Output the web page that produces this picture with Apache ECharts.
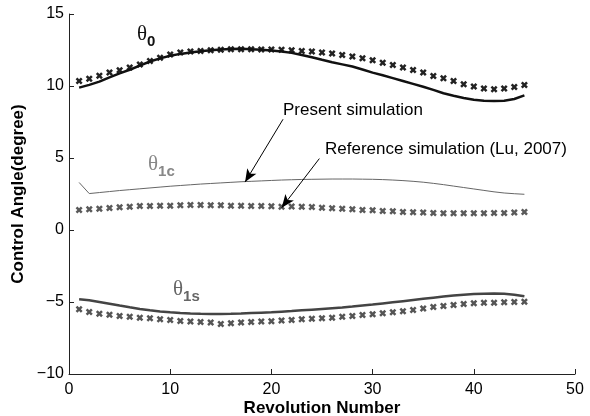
<!DOCTYPE html>
<html><head><meta charset="utf-8">
<script src="https://cdn.jsdelivr.net/npm/echarts@6/dist/echarts.min.js"></script>
<style>html,body{margin:0;padding:0;background:#fff}#c{width:590px;height:416px}</style>
</head><body><div id="c"></div>
<script>
const revolutions = Array.from({length:45},(_,i)=>i+1);
const xTicks = [0,10,20,30,40,50];
const yTicks = [-10,-5,0,5,10,15];
const theta0Present = [9.89,10.08,10.3,10.6,10.88,11.13,11.42,11.7,11.92,12.1,12.23,12.33,12.41,12.48,12.53,12.57,12.58,12.56,12.52,12.47,12.4,12.3,12.15,12.0,11.82,11.65,11.5,11.35,11.15,10.93,10.75,10.55,10.35,10.15,9.95,9.73,9.5,9.32,9.17,9.05,8.98,8.95,8.98,9.1,9.35];
const theta0Ref = [10.35,10.5,10.72,10.93,11.09,11.28,11.5,11.74,11.97,12.18,12.32,12.39,12.43,12.48,12.52,12.55,12.55,12.55,12.54,12.53,12.52,12.48,12.43,12.39,12.32,12.25,12.15,12.04,11.92,11.78,11.62,11.46,11.28,11.11,10.93,10.69,10.53,10.35,10.12,9.96,9.82,9.77,9.82,9.93,10.07];
const theta1cPresent = [3.3,2.53,2.6,2.67,2.74,2.8,2.86,2.92,2.98,3.04,3.09,3.14,3.19,3.23,3.27,3.31,3.35,3.38,3.41,3.44,3.47,3.49,3.51,3.52,3.53,3.54,3.54,3.54,3.53,3.52,3.5,3.47,3.43,3.38,3.32,3.24,3.15,3.05,2.95,2.85,2.75,2.65,2.57,2.52,2.48];
const theta1cRef = [1.39,1.44,1.48,1.53,1.58,1.62,1.67,1.67,1.69,1.69,1.72,1.74,1.74,1.72,1.72,1.69,1.69,1.67,1.67,1.65,1.62,1.64,1.62,1.6,1.55,1.51,1.48,1.44,1.39,1.37,1.32,1.3,1.25,1.23,1.21,1.18,1.16,1.16,1.16,1.16,1.16,1.18,1.18,1.21,1.25];
const theta1sPresent = [-4.81,-4.88,-5.0,-5.12,-5.25,-5.37,-5.48,-5.58,-5.66,-5.72,-5.77,-5.8,-5.82,-5.83,-5.83,-5.82,-5.8,-5.77,-5.74,-5.71,-5.67,-5.63,-5.58,-5.53,-5.48,-5.43,-5.38,-5.32,-5.25,-5.18,-5.1,-5.02,-4.94,-4.86,-4.78,-4.7,-4.62,-4.55,-4.49,-4.45,-4.42,-4.41,-4.43,-4.49,-4.6];
const theta1sRef = [-5.51,-5.69,-5.81,-5.88,-5.97,-6.02,-6.09,-6.13,-6.2,-6.25,-6.32,-6.36,-6.39,-6.43,-6.52,-6.48,-6.43,-6.39,-6.36,-6.34,-6.29,-6.25,-6.2,-6.16,-6.13,-6.09,-6.02,-5.97,-5.9,-5.85,-5.78,-5.72,-5.65,-5.55,-5.46,-5.35,-5.28,-5.21,-5.14,-5.09,-5.05,-5.05,-5.02,-5.0,-4.98];
// annotation arrows [fromX, fromY, toX, toY] in data units
const arrowPresent = [21.15, 7.69, 17.4, 3.33];
const arrowReference = [24.74, 4.96, 21.02, 1.55];

const pairs = arr => revolutions.map((r,i)=>[r,arr[i]]);
const xMark = 'path://M0,2.5 L2.5,0 L5,2.5 L7.5,0 L10,2.5 L7.5,5 L10,7.5 L7.5,10 L5,7.5 L2.5,10 L0,7.5 L2.5,5 Z';

function refSeries(arr,color){
  return {type:'line',data:pairs(arr),symbol:xMark,symbolSize:7,showSymbol:true,
    lineStyle:{opacity:0},itemStyle:{color:color},z:3,silent:true,animation:false};
}
function presSeries(arr,color,w){
  return {type:'line',data:pairs(arr),symbol:'none',smooth:false,
    lineStyle:{color:color,width:w},z:4,silent:true,animation:false};
}
function arrowLine(a){
  return [{coord:[a[0],a[1]]},{coord:[a[2],a[3]]}];
}
const chart = echarts.init(document.getElementById('c'),null,{renderer:'canvas'});
const F = 'Liberation Sans, Arial, sans-serif';
chart.setOption({
  animation:false,
  backgroundColor:'#fff',
  grid:{left:69,right:15,top:14,bottom:42,containLabel:false,outerBoundsMode:'none'},
  xAxis:{type:'value',min:xTicks[0],max:xTicks[xTicks.length-1],interval:10,
    name:'Revolution Number',nameLocation:'middle',nameGap:26,nameMoveOverlap:false,
    nameTextStyle:{fontFamily:F,fontWeight:'bold',fontSize:17,color:'#000'},
    axisLine:{show:true,onZero:false,lineStyle:{color:'#222',width:1}},
    axisTick:{show:true,inside:true,length:5,lineStyle:{color:'#222'}},
    axisLabel:{fontFamily:F,fontSize:16,color:'#000',margin:8},
    splitLine:{show:false}},
  yAxis:{type:'value',min:yTicks[0],max:yTicks[yTicks.length-1],interval:5,
    name:'Control Angle(degree)',nameLocation:'middle',nameGap:42,nameMoveOverlap:false,
    nameTextStyle:{fontFamily:F,fontWeight:'bold',fontSize:17,color:'#000'},
    axisLine:{show:true,onZero:false,lineStyle:{color:'#222',width:1}},
    axisTick:{show:true,inside:true,length:5,lineStyle:{color:'#222'}},
    axisLabel:{fontFamily:F,fontSize:16,color:'#000',margin:5,
      formatter:v=>String(v).replace('-','\u2212')},
    splitLine:{show:false}},
  series:[
    refSeries(theta0Ref,'#222'),
    presSeries(theta0Present,'#111',2.5),
    refSeries(theta1cRef,'#5a5a5a'),
    presSeries(theta1cPresent,'#666',1),
    refSeries(theta1sRef,'#555'),
    presSeries(theta1sPresent,'#444',2.5),
    {type:'line',data:[],silent:true,
      markLine:{silent:true,symbol:['none','arrow'],symbolSize:[8,13],
        lineStyle:{color:'#000',width:1,type:'solid'},label:{show:false},
        data:[arrowLine(arrowPresent),arrowLine(arrowReference)]}}
  ],
  graphic:[
    {type:'text',left:137,top:24,style:{rich:{t:{fontFamily:'Liberation Serif, serif',fontSize:21,fill:'#111'},s:{fontFamily:F,fontWeight:'bold',fontSize:15,fill:'#111',padding:[14,0,0,0]}},text:'{t|θ}{s|0}'}},
    {type:'text',left:148,top:154,style:{rich:{t:{fontFamily:'Liberation Serif, serif',fontSize:21,fill:'#888'},s:{fontFamily:F,fontWeight:'bold',fontSize:15,fill:'#888',padding:[14,0,0,0]}},text:'{t|θ}{s|1c}'}},
    {type:'text',left:173,top:279,style:{rich:{t:{fontFamily:'Liberation Serif, serif',fontSize:21,fill:'#666'},s:{fontFamily:F,fontWeight:'bold',fontSize:15,fill:'#666',padding:[14,0,0,0]}},text:'{t|θ}{s|1s}'}},
    {type:'text',left:283,top:102,style:{text:'Present simulation',fontFamily:F,fontSize:17,fill:'#000'}},
    {type:'text',left:325,top:141,style:{text:'Reference simulation (Lu, 2007)',fontFamily:F,fontSize:17,fill:'#000'}}
  ]
});
</script></body></html>
